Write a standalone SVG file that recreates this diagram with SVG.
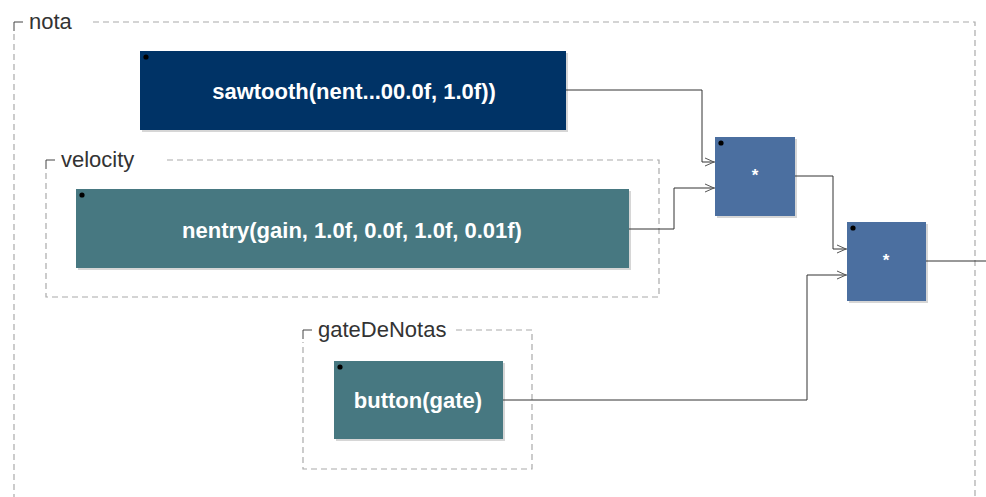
<svg xmlns="http://www.w3.org/2000/svg" width="986" height="497" viewBox="0 0 986 497">
<style>
.grp{fill:none;stroke:#aaaaaa;stroke-width:1.2;stroke-dasharray:6 4}
.corner{fill:none;stroke:#444;stroke-width:1}
.lbl{font-family:"Liberation Sans",Arial,sans-serif;font-size:22px;fill:#333}
.bt{font-family:"Liberation Sans",Arial,sans-serif;font-size:22px;font-weight:bold;fill:#ffffff;text-anchor:middle;dominant-baseline:central}
.op{font-size:17px}
.sh{fill:#cccccc;opacity:0.8}
.dot{fill:#000}
.wire{fill:none;stroke:#333;stroke-width:1}
.arr{fill:none;stroke:#555;stroke-width:1}
</style>
<rect width="986" height="497" fill="#ffffff"/>
<g id="nota">
<path class="grp" d="M93 22 H975 V497 M14 34 V497"/>
<path class="corner" d="M14 31 V22 H23"/>
<text class="lbl" x="29" y="29">nota</text>
</g>
<g id="velocity">
<path class="grp" d="M167 160 H659 V297 H46 V172"/>
<path class="corner" d="M46 169 V160 H55"/>
<text class="lbl" x="61" y="167">velocity</text>
</g>
<g id="gateDeNotas">
<path class="grp" d="M456 330 H532 V469 H303 V342"/>
<path class="corner" d="M303 339 V330 H312"/>
<text class="lbl" x="318" y="337">gateDeNotas</text>
</g>
<g id="sawtooth">
<rect class="sh" x="142" y="53" width="426" height="79"/>
<rect x="140" y="51" width="426" height="79" fill="#003366"/>
<circle class="dot" cx="146" cy="57" r="2.6"/>
<text class="bt" x="354" y="91">sawtooth(nent...00.0f, 1.0f))</text>
</g>
<g id="nentry">
<rect class="sh" x="78" y="191" width="553" height="79"/>
<rect x="76" y="189" width="553" height="79" fill="#477881"/>
<circle class="dot" cx="82" cy="195" r="2.6"/>
<text class="bt" x="352" y="230">nentry(gain, 1.0f, 0.0f, 1.0f, 0.01f)</text>
</g>
<g id="button">
<rect class="sh" x="336" y="363" width="169" height="78"/>
<rect x="334" y="361" width="169" height="78" fill="#477881"/>
<circle class="dot" cx="340" cy="367" r="2.6"/>
<text class="bt" x="418" y="400">button(gate)</text>
</g>
<g id="mul1">
<rect class="sh" x="717" y="139" width="80" height="79"/>
<rect x="715" y="137" width="80" height="79" fill="#4b6fa0"/>
<circle class="dot" cx="721" cy="143" r="2.6"/>
<text class="bt op" x="755" y="175">*</text>
</g>
<g id="mul2">
<rect class="sh" x="849" y="224" width="79" height="79"/>
<rect x="847" y="222" width="79" height="79" fill="#4b6fa0"/>
<circle class="dot" cx="853" cy="228" r="2.6"/>
<text class="bt op" x="886" y="260">*</text>
</g>
<g id="connectors">
<path class="wire" d="M566 90 H702 V162 H715"/>
<path class="arr" d="M705 158 L714 162 L705 166"/>
<path class="wire" d="M629 229 H674 V188 H715"/>
<path class="arr" d="M705 184 L714 188 L705 192"/>
<path class="wire" d="M795 176 H833 V249 H847"/>
<path class="arr" d="M837 245 L846 249 L837 253"/>
<path class="wire" d="M503 400 H807 V275 H847"/>
<path class="arr" d="M837 271 L846 275 L837 279"/>
<path class="wire" d="M926 261 H986"/>
</g>
</svg>
